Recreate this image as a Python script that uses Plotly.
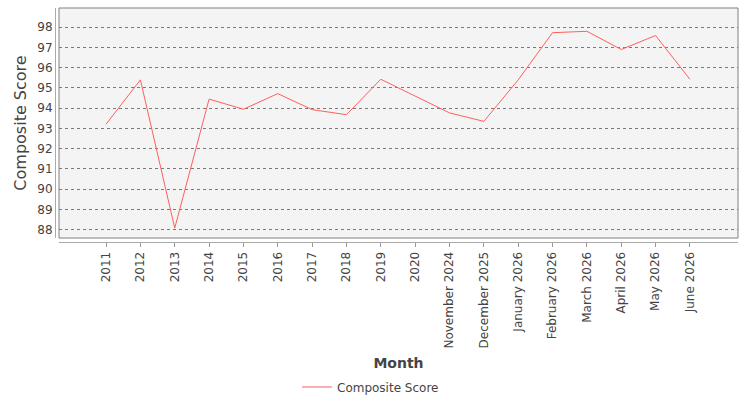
import plotly.graph_objects as go

categories = ["2011", "2012", "2013", "2014", "2015", "2016", "2017", "2018", "2019", "2020",
              "November 2024", "December 2025", "January 2026", "February 2026", "March 2026",
              "April 2026", "May 2026", "June 2026"]
composite_score = [93.21, 95.40, 88.08, 94.45, 93.95, 94.72, 93.93, 93.68, 95.43, 94.62,
                   93.77, 93.35, 95.40, 97.73, 97.80, 96.90, 97.59, 95.43]
y_ticks = [88, 89, 90, 91, 92, 93, 94, 95, 96, 97, 98]

W, H = 750, 400
ml, mr, mt, mb = 55, 12, 8, 158
pw = W - ml - mr
ph = H - mt - mb
off = 4
font_fam = "DejaVu Sans, sans-serif"

fig = go.Figure()
fig.add_trace(go.Scatter(
    x=list(range(len(categories))), y=composite_score, mode="lines",
    name="Composite Score", line=dict(color="#ff5f5f", width=1),
))

fig.update_layout(
    width=W, height=H,
    margin=dict(l=ml, r=mr, t=mt, b=mb, autoexpand=False),
    paper_bgcolor="white", plot_bgcolor="#f4f4f4",
    font=dict(family=font_fam, size=12, color="#444444"),
    showlegend=True,
    legend=dict(orientation="h", xref="paper", x=0.5 - 26 / pw, xanchor="center",
                yref="container", y=1 - 387 / H, yanchor="middle",
                font=dict(size=12, color="#444444")),
    xaxis=dict(
        domain=[off / pw, 1], anchor="free", position=0,
        range=[-1.37, 18.4],
        tickmode="array", tickvals=list(range(len(categories))), ticktext=categories,
        tickangle=-90, ticks="outside", ticklen=4, tickcolor="#999999",
        showline=True, linecolor="#aaaaaa", linewidth=1,
        showgrid=False, zeroline=False,
        tickfont=dict(size=12, color="#444444"),
        title=dict(text="<b>Month</b>", font=dict(size=14, color="#444444"), standoff=10),
        automargin=False,
    ),
    yaxis=dict(
        domain=[off / ph, 1], anchor="free", position=0,
        range=[87.59, 98.95],
        tickmode="array", tickvals=y_ticks,
        ticks="", showline=True, linecolor="#aaaaaa", linewidth=1,
        showgrid=True, gridcolor="#7a7a7a", gridwidth=0.5, griddash="dot",
        zeroline=False,
        tickfont=dict(size=12, color="#444444"),
        title=dict(text="Composite Score", font=dict(size=16, color="#444444"), standoff=5),
        automargin=False,
    ),
    shapes=[dict(type="rect", xref="x domain", yref="y domain", x0=0, x1=1, y0=0, y1=1,
                 line=dict(color="#808080", width=1), fillcolor="rgba(0,0,0,0)", layer="above")],
)

fig.write_html("out.html")
